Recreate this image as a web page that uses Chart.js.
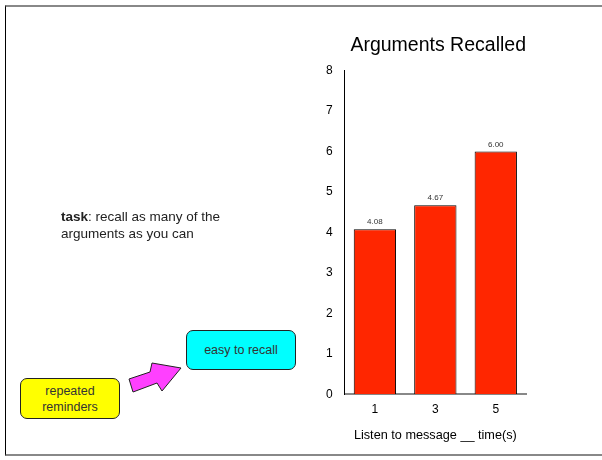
<!DOCTYPE html>
<html>
<head>
<meta charset="utf-8">
<script src="https://cdn.jsdelivr.net/npm/chart.js@4/dist/chart.umd.min.js"></script>
<style>
	body{margin:0;background:#fff;font-family:"Helvetica Neue",Helvetica,"Liberation Sans",Arial,sans-serif;}
	#slide{position:relative;width:602px;height:460px;overflow:hidden;}
	#frame{position:absolute;left:5px;top:5px;width:597px;height:447px;border-left:1.5px solid #000;border-top:2px solid #888;border-bottom:2px solid #888;}
	#chart{position:absolute;left:0;top:0;}
	.task{position:absolute;left:61px;top:208px;font-size:13.5px;line-height:17px;color:#222;}
	.box{position:absolute;border:1px solid #222;border-radius:7px;font-size:12.5px;line-height:16px;color:#333;text-align:center;display:flex;align-items:center;justify-content:center;}
	#remind{left:20px;top:378px;width:98px;height:39px;background:#ffff00;}
	#easy{left:186px;top:330px;width:108px;height:38px;background:#00ffff;}
	svg{position:absolute;left:0;top:0;}
</style>
</head>
<body>
<div id="slide">
	<div id="frame"></div>
	<canvas id="chart" width="602" height="460"></canvas>
	<div class="task"><b>task</b>: recall as many of the<br>arguments as you can</div>
	<div class="box" id="remind">repeated<br>reminders</div>
	<div class="box" id="easy">easy to recall</div>
	<svg width="602" height="460"><polygon points="129,379 150,372 152,363 181,368 162,391 157,383 133,392" fill="#ff40ff" stroke="#222" stroke-width="1"/></svg>
</div>
<script>
// Data
const categories = ['1','3','5'];
const recalled = [4.08,4.67,6.00];
const yTicks = [0,1,2,3,4,5,6,7,8];

const fontFamily = '"Helvetica Neue",Helvetica,"Liberation Sans",Arial,sans-serif';

// Draw the value above each bar
const valueLabels = {
	id:'valueLabels',
	afterDatasetsDraw(chart){
		const ctx = chart.ctx;
		const meta = chart.getDatasetMeta(0);
		ctx.save();
		ctx.font = '8px '+fontFamily;
		ctx.fillStyle = '#333';
		ctx.textAlign = 'center';
		ctx.textBaseline = 'bottom';
		meta.data.forEach(function(bar,i){
			ctx.fillText(recalled[i].toFixed(2),bar.x,bar.y-3);
		});
		ctx.restore();
	}
};

new Chart(document.getElementById('chart'),{
	type:'bar',
	data:{
		labels:categories,
		datasets:[{
			data:recalled,
			backgroundColor:'#ff2600',
			borderColor:'#000',
			borderWidth:1,
			barPercentage:0.7,
			categoryPercentage:1
		}]
	},
	options:{
		responsive:false,
		animation:false,
		layout:{padding:{left:314,right:76,top:34,bottom:17}},
		plugins:{
			legend:{display:false},
			tooltip:{enabled:false},
			title:{display:true,align:'end',text:'Arguments Recalled',color:'#000',font:{family:fontFamily,size:19.5,weight:'normal'},padding:{top:0,bottom:13}}
		},
		scales:{
			x:{
				grid:{display:false,drawTicks:false},
				border:{color:'#888',width:2},
				ticks:{color:'#000',font:{family:fontFamily,size:12},padding:8},
				title:{display:true,text:'Listen to message __ time(s)',color:'#000',font:{family:fontFamily,size:12.7},padding:{top:3,bottom:0}}
			},
			y:{
				min:0,max:8,
				afterBuildTicks(axis){ axis.ticks = yTicks.map(v=>({value:v})); },
				grid:{display:false,drawTicks:false},
				border:{color:'#000',width:1},
				ticks:{color:'#000',font:{family:fontFamily,size:12},padding:12}
			}
		}
	},
	plugins:[valueLabels]
});
</script>
</body>
</html>
